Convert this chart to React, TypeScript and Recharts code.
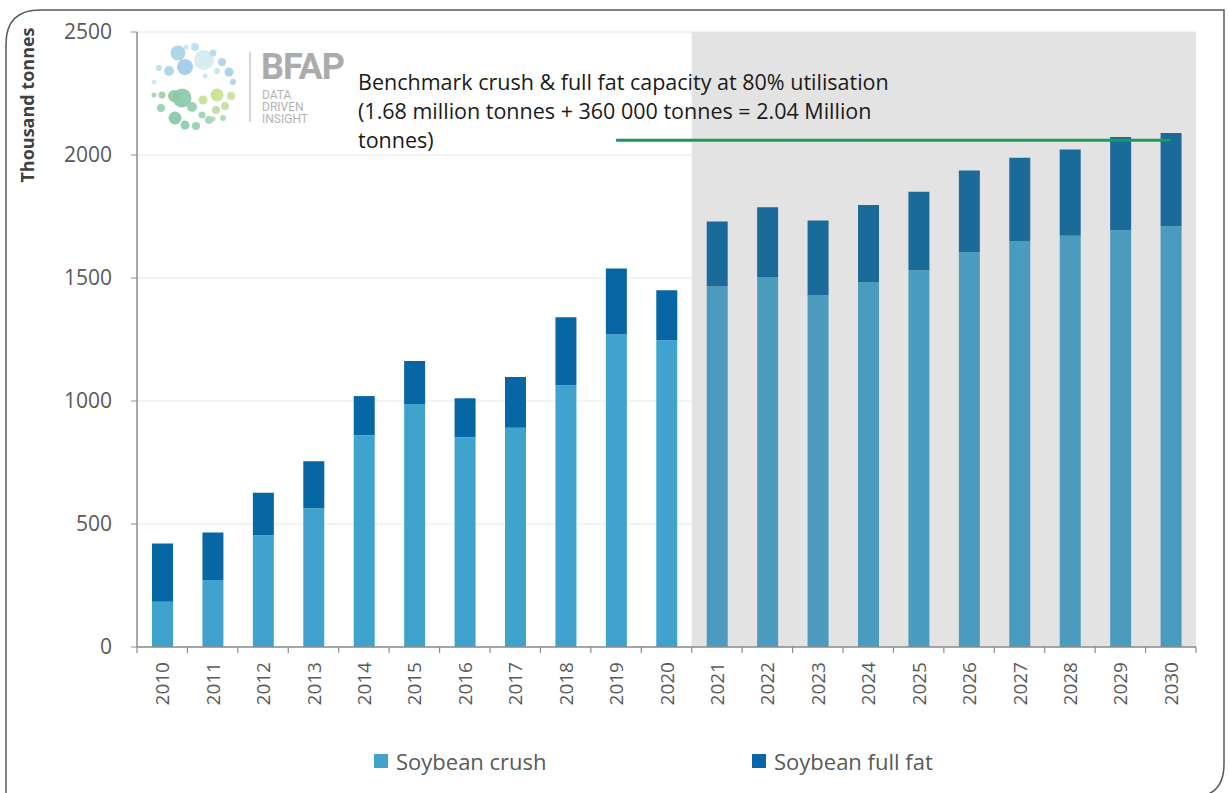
import React from "react";
import {
  BarChart, Bar, XAxis, YAxis, CartesianGrid, Legend,
  ReferenceArea, ReferenceLine, Cell,
} from "recharts";

const years = [
  "2010", "2011", "2012", "2013", "2014", "2015", "2016", "2017", "2018", "2019", "2020",
  "2021", "2022", "2023", "2024", "2025", "2026", "2027", "2028", "2029", "2030",
];
const crush = [
  184, 272, 454, 564, 861, 988, 852, 891, 1064, 1270, 1247,
  1465, 1504, 1430, 1484, 1532, 1606, 1650, 1672, 1694, 1710,
];
const fullFat = [
  237, 193, 173, 191, 159, 175, 159, 207, 276, 269, 203,
  265, 284, 304, 313, 319, 331, 339, 350, 379, 379,
];
const yTicks = [0, 500, 1000, 1500, 2000, 2500];
const benchmark = 2060;
const firstForecast = "2021";
const lastYear = "2030";
const benchmarkFrom = "2019";
const annotation = [
  "Benchmark crush & full fat capacity at 80% utilisation",
  "(1.68 million tonnes + 360 000 tonnes = 2.04 Million",
  "tonnes)",
];

const data = years.map((year, i) => ({ year, crush: crush[i], fullFat: fullFat[i] }));
const forecastIdx = years.indexOf(firstForecast);

const FONT = "'Open Sans', sans-serif";
const C = {
  crush: "#40a3cd",
  crushF: "#4a9bbd",
  ff: "#0766a4",
  ffF: "#1a6a9a",
  shade: "#e3e3e3",
  axis: "#8c8c8c",
  tick: "#595959",
  green: "#1b9a5e",
};

// tick marks sit on band edges, labels rotated
const YearTick = (props: any) => {
  const { x, y, payload, index, visibleTicksCount } = props;
  const half = payload?.offset || 25.2;
  const ay = y - 15;
  return (
    <g>
      <line x1={x - half} x2={x - half} y1={ay} y2={ay + 6} stroke={C.axis} strokeWidth={1.2} />
      {index === visibleTicksCount - 1 && (
        <line x1={x + half} x2={x + half} y1={ay} y2={ay + 6} stroke={C.axis} strokeWidth={1.2} />
      )}
      <text
        x={x}
        y={y}
        transform={`rotate(-90, ${x}, ${y})`}
        textAnchor="end"
        dominantBaseline="central"
        fontSize={19}
        fill={C.tick}
        fontFamily={FONT}
      >
        {payload.value}
      </text>
    </g>
  );
};

const renderLegend = (props: any) => {
  const items = props.payload || [];
  const lefts = [374, 752];
  return (
    <div style={{ position: "relative", width: 1230, height: 32 }}>
      {items.map((it: any, i: number) => (
        <div
          key={it.value}
          style={{
            position: "absolute", left: lefts[i], top: 0, height: 32,
            display: "flex", alignItems: "center",
          }}
        >
          <span style={{ width: 14, height: 14, background: it.color, marginRight: 8 }} />
          <span style={{ fontFamily: FONT, fontSize: 22, color: C.tick }}>{it.value}</span>
        </div>
      ))}
    </div>
  );
};

const dots: [number, number, number, string][] = [
  [33, 15, 7.5, "#a7d1ea"], [40, 29, 8, "#9ccbe8"], [59, 22, 10, "#d3ebf1"], [24, 33, 5, "#a9d3ea"],
  [50, 9, 4, "#b9dcee"], [68, 15, 3.5, "#b4d8ec"], [77, 24, 4, "#a9d2ea"], [84, 34, 4.5, "#a3cfe8"],
  [72, 33, 3, "#c3e1ef"], [88, 44, 3, "#a8d2e9"], [14, 30, 3, "#b9dcee"], [41, 9, 2.5, "#c5e3f0"],
  [9, 44, 2.5, "#cde7f1"], [60, 38, 2.5, "#c8e4ef"],
  [37, 60, 9.5, "#86c9a6"], [29, 58, 6, "#8ec9a2"], [17, 57, 3.5, "#96cfad"], [9, 57, 2.5, "#9fd3b3"],
  [47, 69, 5, "#8fcdac"], [30, 80, 6.5, "#84c8a5"], [16, 70, 4, "#93cfae"], [40, 87, 4.5, "#8acaa8"],
  [51, 88, 4, "#96cfae"], [57, 77, 3.5, "#9ad2b2"], [64, 82, 4, "#9fd4b4"], [72, 57, 6.5, "#c7e28d"],
  [58, 62, 4.5, "#c2df93"], [86, 58, 4, "#c6e196"], [80, 68, 4, "#bfe09e"], [71, 72, 4, "#b8dca2"],
  [78, 80, 3, "#a9d8b0"], [68, 81, 2.5, "#acd9b1"],
];

const Logo = () => (
  <div style={{ position: "absolute", left: 145, top: 38, width: 220, height: 100 }}>
    <svg width={220} height={100}>
      {dots.map(([cx, cy, r, c], i) => (
        <circle key={i} cx={cx} cy={cy} r={r} fill={c} fillOpacity={0.9} />
      ))}
      <line x1={105} x2={105} y1={14} y2={84} stroke="#c8c8c8" strokeWidth={1.5} />
      <text x={116} y={41} fontFamily="Roboto, sans-serif" fontWeight={700} fontSize={36}
        letterSpacing={-1} fill="#ababab">BFAP</text>
      <text fontFamily="Roboto, sans-serif" fontSize={12} fill="#b3b3b3">
        <tspan x={117} y={61}>DATA</tspan>
        <tspan x={117} y={73}>DRIVEN</tspan>
        <tspan x={117} y={85}>INSIGHT</tspan>
      </text>
    </svg>
  </div>
);

export default function App() {
  return (
    <div style={{ position: "absolute", left: 0, top: 0, width: 1230, height: 793, background: "#fff", overflow: "hidden" }}>
      <svg width={1230} height={793} style={{ position: "absolute", left: 0, top: 0 }}>
        <path
          d="M 6 800 L 6 44 Q 6 10 40 10 L 1224 10 L 1224 764 Q 1224 797 1192 797"
          fill="none" stroke="#5a5a5a" strokeWidth={1.5}
        />
      </svg>
      <BarChart
        width={1230}
        height={793}
        data={data}
        margin={{ top: 32, right: 34, left: 77, bottom: 44 }}
        barSize={21}
        style={{ fontFamily: FONT }}
      >
        <CartesianGrid vertical={false} stroke="#e8e8e8" />
        <ReferenceArea x1={firstForecast} x2={lastYear} y1={0} y2={2500} fill={C.shade} fillOpacity={1} stroke="none" ifOverflow="visible" />
        <XAxis
          dataKey="year"
          height={70}
          interval={0}
          tickLine={false}
          tickSize={6}
          tickMargin={9}
          axisLine={{ stroke: C.axis, strokeWidth: 1.5 }}
          tick={<YearTick />}
        />
        <YAxis
          width={60}
          domain={[0, 2500]}
          ticks={yTicks}
          tickSize={6}
          tickMargin={19}
          axisLine={{ stroke: C.axis, strokeWidth: 1.5 }}
          tickLine={{ stroke: C.axis }}
          tick={{ fontSize: 21, fill: C.tick, fontFamily: FONT }}
          label={{
            content: (p: any) => {
              const vb = p.viewBox || { x: 77, y: 32 };
              const lx = vb.x - 50;
              const ly = vb.y + 73;
              return (
                <text x={lx} y={ly} transform={`rotate(-90, ${lx}, ${ly})`} textAnchor="middle"
                  dominantBaseline="central" fontFamily={FONT} fontWeight={700} fontSize={18} fill="#404040">
                  Thousand tonnes
                </text>
              );
            },
          }}
        />
        <Legend
          verticalAlign="bottom"
          height={32}
          content={renderLegend}
          wrapperStyle={{ left: 0, top: 745, width: 1230, height: 32 }}
        />
        <Bar dataKey="crush" name="Soybean crush" stackId="a" fill={C.crush} isAnimationActive={false}>
          {data.map((d, i) => (
            <Cell key={d.year} fill={i >= forecastIdx ? C.crushF : C.crush} />
          ))}
        </Bar>
        <Bar dataKey="fullFat" name="Soybean full fat" stackId="a" fill={C.ff} isAnimationActive={false}>
          {data.map((d, i) => (
            <Cell key={d.year} fill={i >= forecastIdx ? C.ffF : C.ff} />
          ))}
        </Bar>
        <ReferenceLine
          segment={[{ x: benchmarkFrom, y: benchmark }, { x: lastYear, y: benchmark }]}
          stroke={C.green}
          strokeWidth={3}
          ifOverflow="visible"
        />
      </BarChart>
      <Logo />
      <svg width={600} height={100} style={{ position: "absolute", left: 358, top: 64 }}>
        <text fontFamily={FONT} fontSize={21.5} fill="#1a1a1a">
          {annotation.map((l, i) => (
            <tspan key={l} x={0} y={26 + i * 29}>{l}</tspan>
          ))}
        </text>
      </svg>
    </div>
  );
}
